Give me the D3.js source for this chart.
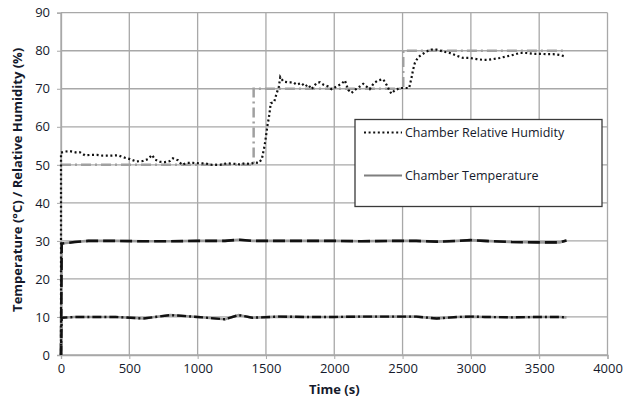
<!DOCTYPE html>
<html>
<head>
<meta charset="utf-8">
<script src="https://cdn.jsdelivr.net/npm/d3@7"></script>
<style>
  body { margin: 0; background: #fff; }
  svg { display: block; }
  .tick text { font-family: "Open Sans", sans-serif; font-size: 13px; fill: #151a2c; }
</style>
</head>
<body>
<script>
// chamber test: humidity and temperature against time

var xTicks = [0, 500, 1000, 1500, 2000, 2500, 3000, 3500, 4000];
var yTicks = [0, 10, 20, 30, 40, 50, 60, 70, 80, 90];

// measured relative humidity (%)
var rhTime = [0, 0, 30, 65, 117, 140, 175, 212, 263, 307, 358, 417, 454, 505, 549, 600, 636, 666, 688, 724,
  760, 797, 819, 856, 885, 922, 966, 1017, 1053, 1105, 1163, 1214, 1258, 1309, 1346, 1383, 1419, 1448,
  1470, 1490, 1500, 1510, 1525, 1535, 1560, 1575, 1595, 1605, 1627, 1663, 1700, 1724, 1760, 1785, 1809,
  1834, 1870, 1895, 1919, 1955, 1980, 2017, 2053, 2078, 2102, 2126, 2151, 2187, 2212, 2236, 2260, 2290,
  2321, 2358, 2382, 2407, 2419, 2443, 2480, 2516, 2548, 2565, 2577, 2590, 2614, 2638, 2675, 2712, 2748,
  2797, 2846, 2895, 2943, 2992, 3041, 3090, 3126, 3163, 3212, 3260, 3309, 3358, 3407, 3456, 3504, 3553,
  3602, 3650, 3687];
var rhValue = [0, 53.2, 53.5, 53.6, 53.2, 53.3, 52.5, 52.6, 52.6, 52.4, 52.4, 52.5, 52.0, 51.5, 50.9, 51.0, 51.5, 52.6, 51.4, 50.8,
  50.7, 51.0, 51.7, 51.2, 50.0, 50.5, 50.5, 50.4, 50.4, 50.0, 50.0, 50.4, 50.3, 50.1, 50.4, 50.2, 50.6, 50.5,
  51.5, 55.0, 57.4, 60.1, 63.2, 66.2, 66.5, 68.4, 70.6, 73.1, 71.9, 71.7, 71.7, 71.1, 71.5, 70.6, 71.1,
  69.9, 71.5, 71.7, 71.1, 70.6, 69.9, 70.6, 71.3, 72.2, 69.7, 68.9, 69.7, 70.6, 71.3, 70.6, 69.9, 71.5,
  72.2, 72.5, 71.1, 69.3, 68.7, 69.6, 70.2, 70.2, 70.2, 72.8, 75.0, 76.8, 78.3, 78.9, 79.8, 80.3, 80.3,
  79.8, 79.4, 78.7, 78.1, 78.1, 77.8, 77.6, 77.6, 77.8, 78.1, 78.5, 78.9, 79.4, 79.4, 79.2, 79.2, 79.1,
  79.1, 78.9, 78.5];

// humidity set point (%)
var rhSetTime = [0, 1410, 1410, 2505, 2505, 3690];
var rhSetValue = [50, 50, 70, 70, 80, 80];

// chamber temperature (degC), upper and lower runs
var tempTime = [0, 5, 100, 200, 400, 600, 800, 1000, 1200, 1300, 1400, 1600, 1800, 2000, 2200, 2400,
  2600, 2750, 2900, 3000, 3100, 3300, 3500, 3650, 3700];
var tempHigh = [0, 29.3, 29.7, 30.0, 30.0, 29.9, 29.9, 30.0, 30.0, 30.3, 30.0, 30.0, 30.0, 30.0, 29.9, 30.0,
  30.0, 29.8, 30.0, 30.2, 30.0, 29.7, 29.6, 29.6, 30.1];
var tempLow = [0, 9.8, 10.0, 10.0, 10.0, 9.6, 10.5, 10.0, 9.4, 10.5, 9.8, 10.1, 10.0, 10.0, 10.1, 10.1,
  10.1, 9.6, 10.0, 10.1, 10.0, 9.9, 10.0, 10.0, 9.9];

var legendLabels = ["Chamber Relative Humidity", "Chamber Temperature"];

var width = 624, height = 399;
var margin = {top: 12.7, right: 16.5, bottom: 44, left: 61};

var svg = d3.select(document.body)
  .append("svg")
  .attr("width", width)
  .attr("height", height);

var x = d3.scaleLinear().domain([0, 4000]).range([margin.left, width - margin.right]);
var y = d3.scaleLinear().domain([0, 90]).range([height - margin.bottom, margin.top]);

// grid
svg.append("g")
  .selectAll("line.vg")
  .data(xTicks)
  .join("line")
  .attr("x1", d => x(d)).attr("x2", d => x(d))
  .attr("y1", y(0)).attr("y2", y(90))
  .attr("stroke", "#a8a8a8").attr("stroke-width", 1.3);
svg.append("g")
  .selectAll("line.hg")
  .data(yTicks)
  .join("line")
  .attr("x1", x(0)).attr("x2", x(4000))
  .attr("y1", d => y(d)).attr("y2", d => y(d))
  .attr("stroke", "#a8a8a8").attr("stroke-width", 1.3);

// axes
var xAxis = svg.append("g")
  .attr("transform", "translate(0," + y(0) + ")")
  .call(d3.axisBottom(x).tickValues(xTicks).tickFormat(d3.format("d")).tickSize(4).tickPadding(5));
var yAxis = svg.append("g")
  .attr("transform", "translate(" + x(0) + ",0)")
  .call(d3.axisLeft(y).tickValues(yTicks).tickFormat(d3.format("d")).tickSize(4).tickPadding(5));
[xAxis, yAxis].forEach(function (g) {
  g.select(".domain").attr("stroke", "#a8a8a8").attr("stroke-width", 1.3);
  g.selectAll(".tick line").attr("stroke", "#a8a8a8");
  g.selectAll(".tick text").style("font-weight", "500");
});
yAxis.selectAll(".tick text").attr("dx", "-2");

// lines
function pairs(ts, vs) {
  return ts.map(function (t, i) { return [t, vs[i]]; });
}
var line = d3.line().x(d => x(d[0])).y(d => y(d[1]));

// temperature: grey trace with black dashes over it
svg.append("path").datum(pairs(tempTime, tempHigh))
  .attr("fill", "none").attr("stroke", "#9a9a9a").attr("stroke-width", 2.6).attr("d", line);
svg.append("path").datum(pairs(tempTime, tempHigh))
  .attr("fill", "none").attr("stroke", "#111").attr("stroke-width", 2.6)
  .attr("stroke-dasharray", "12,5").attr("d", line);
svg.append("path").datum(pairs(tempTime, tempLow))
  .attr("fill", "none").attr("stroke", "#9a9a9a").attr("stroke-width", 2.6).attr("d", line);
svg.append("path").datum(pairs(tempTime, tempLow))
  .attr("fill", "none").attr("stroke", "#111").attr("stroke-width", 2.4)
  .attr("stroke-dasharray", "9,3,2,3").attr("d", line);

// humidity set point
svg.append("path").datum(pairs(rhSetTime, rhSetValue))
  .attr("fill", "none").attr("stroke", "#a0a0a0").attr("stroke-width", 2.5)
  .attr("stroke-dasharray", "10,4,2,4").attr("d", line);

// measured humidity, dotted
svg.append("path").datum(pairs(rhTime, rhValue))
  .attr("fill", "none").attr("stroke", "#111").attr("stroke-width", 2.2)
  .attr("stroke-dasharray", "2,2.6").attr("d", line);

// axis titles
svg.append("text")
  .attr("x", (x(0) + x(4000)) / 2).attr("y", 394)
  .attr("text-anchor", "middle")
  .style("font-family", "Open Sans, sans-serif").style("font-size", "13px").style("font-weight", "bold")
  .style("fill", "#151a2c")
  .text("Time (s)");
svg.append("text")
  .attr("transform", "translate(22," + (y(45) - 4) + ") rotate(-90)")
  .attr("text-anchor", "middle")
  .style("font-family", "Open Sans, sans-serif").style("font-size", "13px").style("font-weight", "bold")
  .style("fill", "#151a2c")
  .text("Temperature (\u00b0C) / Relative Humidity (%)");

// legend
var lg = svg.append("g").attr("transform", "translate(355,119.5)");
lg.append("rect")
  .attr("width", 247).attr("height", 87)
  .attr("fill", "#fff").attr("stroke", "#3a3a3a").attr("stroke-width", 1.3);
var rows = lg.selectAll("g.row")
  .data(legendLabels)
  .join("g")
  .attr("transform", (d, i) => "translate(0," + (13 + i * 43) + ")");
rows.append("line")
  .attr("x1", 9).attr("x2", 47).attr("y1", 0).attr("y2", 0)
  .attr("stroke", (d, i) => i === 0 ? "#111" : "#7f7f7f")
  .attr("stroke-width", (d, i) => i === 0 ? 2.2 : 2)
  .attr("stroke-dasharray", (d, i) => i === 0 ? "2,2.6" : null);
rows.append("text")
  .attr("x", 50).attr("y", 4.5)
  .style("font-family", "Open Sans, sans-serif").style("font-size", "12.5px")
  .style("fill", "#151a2c")
  .text(d => d);
</script>
</body>
</html>
